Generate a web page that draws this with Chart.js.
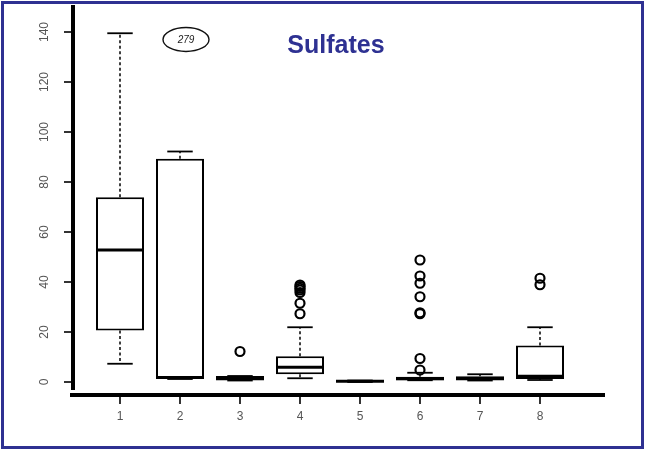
<!DOCTYPE html>
<html>
<head>
<meta charset="utf-8">
<script src="https://cdn.jsdelivr.net/npm/chart.js@4.4.0/dist/chart.umd.min.js"></script>
<style>
  html, body { margin: 0; padding: 0; background: #fff; }
  canvas { display: block; }
</style>
</head>
<body>
<canvas id="chart" width="645" height="450"></canvas>
<script>
// boxplot values
const categories = ['1', '2', '3', '4', '5', '6', '7', '8'];
const q1 = [20.6, 1.2, 0.6, 3.1, 0.0, 0.7, 0.6, 1.2];
const q3 = [73.9, 89.3, 2.4, 10.3, 0.6, 2.1, 2.3, 14.6];
const medians = [52.8, 1.8, 1.4, 5.9, 0.3, 1.3, 1.4, 2.3];
const whiskerLow = [7.3, 1.2, 0.6, 1.5, 0.0, 0.7, 0.6, 0.8];
const whiskerHigh = [139.5, 92.2, 2.4, 21.9, 0.6, 3.7, 3.1, 21.9];
const outliers = [
  [],
  [],
  [12.2],
  [27.3, 31.5, 35.8, 36.8, 37.5, 38.2, 38.8],
  [],
  [4.8, 9.4, 27.3, 27.7, 34.1, 39.5, 42.4, 48.8],
  [],
  [38.9, 41.5]
];
const yTicks = [0, 20, 40, 60, 80, 100, 120, 140];
const noteLabel = '279';
const noteValue = 137;
const titleText = 'Sulfates';

// outlier points as {x, y}
const outlierPoints = [];
outliers.forEach((vals, i) => {
  vals.forEach(v => outlierPoints.push({ x: categories[i], y: v }));
});

function line(ctx, x1, y1, x2, y2) {
  ctx.beginPath();
  ctx.moveTo(x1, y1);
  ctx.lineTo(x2, y2);
  ctx.stroke();
}

// whiskers, caps and medians
const boxParts = {
  id: 'boxParts',
  afterDatasetsDraw(chart) {
    const ctx = chart.ctx;
    const y = chart.scales.y;
    const meta = chart.getDatasetMeta(0);
    ctx.save();
    ctx.strokeStyle = '#000';
    meta.data.forEach((bar, i) => {
      const cx = bar.x;
      const half = bar.width / 2;
      const cap = half * 0.53;
      ctx.lineWidth = 1.5;
      ctx.setLineDash([3, 2.5]);
      if (whiskerHigh[i] > q3[i]) line(ctx, cx, y.getPixelForValue(q3[i]), cx, y.getPixelForValue(whiskerHigh[i]));
      if (whiskerLow[i] < q1[i]) line(ctx, cx, y.getPixelForValue(q1[i]), cx, y.getPixelForValue(whiskerLow[i]));
      ctx.setLineDash([]);
      ctx.lineWidth = 1.8;
      line(ctx, cx - cap, y.getPixelForValue(whiskerHigh[i]), cx + cap, y.getPixelForValue(whiskerHigh[i]));
      line(ctx, cx - cap, y.getPixelForValue(whiskerLow[i]), cx + cap, y.getPixelForValue(whiskerLow[i]));
      ctx.lineWidth = 3.2;
      line(ctx, cx - half, y.getPixelForValue(medians[i]), cx + half, y.getPixelForValue(medians[i]));
    });
    ctx.restore();
  }
};

// R-style axes, title, note and frame
const decor = {
  id: 'decor',
  afterDraw(chart) {
    const ctx = chart.ctx;
    const area = chart.chartArea;
    const x = chart.scales.x;
    const y = chart.scales.y;
    const ax = area.left - 17;
    const ay = area.bottom + 8;
    ctx.save();
    ctx.strokeStyle = '#000';

    // y axis
    ctx.lineWidth = 4;
    line(ctx, ax, area.top - 2, ax, area.bottom + 3);
    ctx.lineWidth = 1.6;
    ctx.fillStyle = '#555';
    ctx.font = '12px "Liberation Sans", Arial, sans-serif';
    ctx.textAlign = 'center';
    ctx.textBaseline = 'middle';
    yTicks.forEach(t => {
      const py = y.getPixelForValue(t);
      line(ctx, ax - 9, py, ax, py);
      ctx.save();
      ctx.translate(ax - 28, py);
      ctx.rotate(-Math.PI / 2);
      ctx.fillText(String(t), 0, 0);
      ctx.restore();
    });

    // x axis
    ctx.lineWidth = 4;
    line(ctx, ax - 3, ay, area.right + 35, ay);
    ctx.lineWidth = 1.6;
    categories.forEach((c, i) => {
      const px = x.getPixelForValue(i);
      line(ctx, px, ay, px, ay + 9);
      ctx.fillText(c, px, ay + 22);
    });

    // title
    ctx.fillStyle = '#2e3192';
    ctx.font = 'bold 25px "Liberation Sans", Arial, sans-serif';
    ctx.fillText(titleText, area.left + 246, 46);

    // note in ellipse
    const nx = x.getPixelForValue(1) + 6;
    const ny = y.getPixelForValue(noteValue);
    ctx.lineWidth = 1.4;
    ctx.strokeStyle = '#111';
    ctx.beginPath();
    ctx.ellipse(nx, ny, 23, 12, 0, 0, Math.PI * 2);
    ctx.stroke();
    ctx.fillStyle = '#222';
    ctx.font = 'italic 10px "Liberation Sans", Arial, sans-serif';
    ctx.fillText(noteLabel, nx, ny + 1);

    // blue frame
    ctx.strokeStyle = '#2e3192';
    ctx.lineWidth = 3;
    ctx.strokeRect(2.5, 2.5, chart.width - 5, chart.height - 5);
    ctx.restore();
  }
};

new Chart(document.getElementById('chart'), {
  type: 'bar',
  data: {
    labels: categories,
    datasets: [
      {
        data: categories.map((c, i) => [q1[i], q3[i]]),
        backgroundColor: '#fff',
        borderColor: '#000',
        borderWidth: 2,
        borderSkipped: false,
        categoryPercentage: 0.8,
        barPercentage: 1.0
      },
      {
        type: 'line',
        data: outlierPoints,
        showLine: false,
        pointRadius: 4.5,
        pointBorderWidth: 2.2,
        pointBackgroundColor: 'rgba(0,0,0,0)',
        pointBorderColor: '#000'
      }
    ]
  },
  options: {
    responsive: false,
    animation: false,
    layout: { padding: { left: 90, right: 75, top: 7, bottom: 63 } },
    plugins: {
      legend: { display: false },
      tooltip: { enabled: false }
    },
    scales: {
      x: { display: false, offset: true },
      y: { display: false, min: -2, max: 150 }
    }
  },
  plugins: [boxParts, decor]
});
</script>
</body>
</html>
